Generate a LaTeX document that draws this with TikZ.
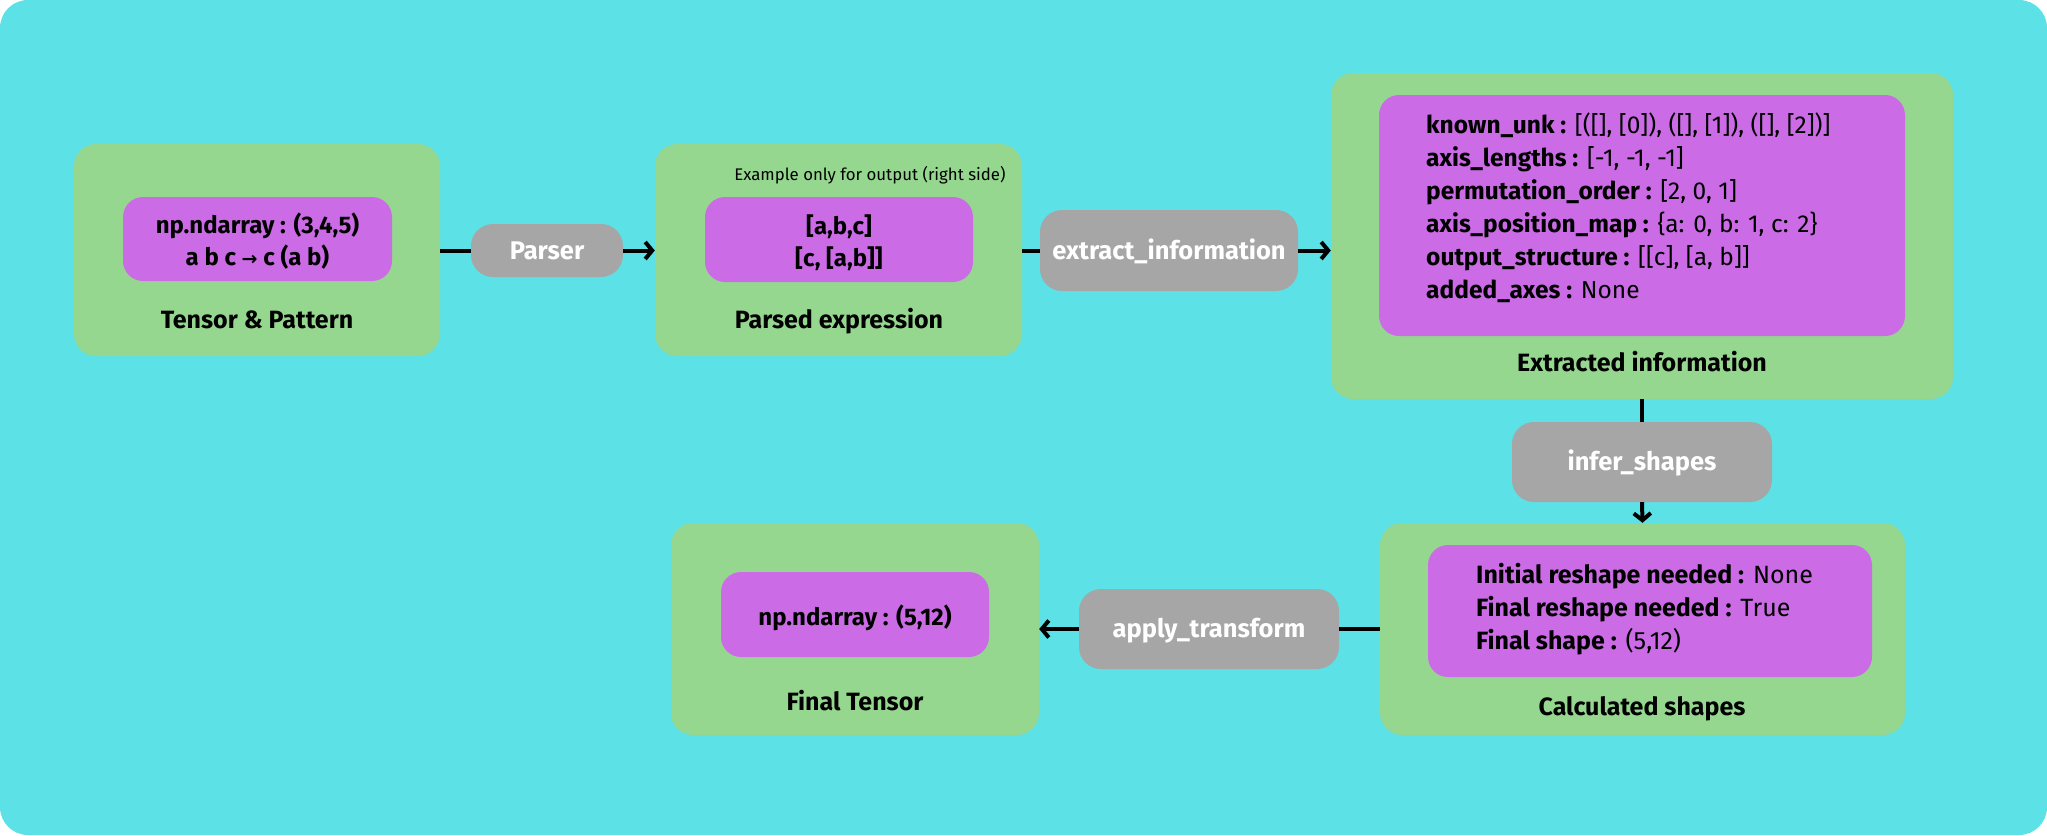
\documentclass[tikz,border=0pt]{standalone}
\usepackage{fontspec}
\setmainfont{Fira Sans}
\newfontfamily\symfont{DejaVu Sans}
\usetikzlibrary{arrows.meta}
\definecolor{bgc}{HTML}{5CE1E6}
\definecolor{grn}{HTML}{96D78F}
\definecolor{pur}{HTML}{CB6CE6}
\definecolor{gry}{HTML}{A6A6A6}
\tikzset{
  gbox/.style={fill=grn, draw=none, rounded corners=22pt, inner sep=0pt},
  pbox/.style={fill=pur, draw=none, rounded corners=20pt, inner sep=0pt},
  opbox/.style={fill=gry, draw=none, rounded corners=22pt, inner sep=0pt, text=white,
    font=\fontsize{25.5}{30}\selectfont\bfseries, text height=17.6pt, text depth=0pt},
  hdr/.style={inner sep=0pt, font=\fontsize{25}{30}\selectfont\bfseries, text height=17.2pt, text depth=0pt},
  ptxt/.style={inner sep=0pt, font=\fontsize{24}{29}\selectfont\bfseries, text height=16.6pt, text depth=0pt},
  ltxt/.style={inner sep=0pt, anchor=west, font=\fontsize{24.5}{29}\selectfont, text height=16.9pt, text depth=0pt},
  ltxtb/.style={ltxt, font=\fontsize{25}{29}\selectfont, text height=17.2pt},
  note/.style={inner sep=0pt, font=\fontsize{16.8}{20}\selectfont, text height=11.6pt, text depth=0pt},
  conn/.style={line width=4pt, black},
  arr/.style={conn, -{Straight Barb[length=7pt,width=17pt]}}
}
\begin{document}
\begin{tikzpicture}[x=1pt,y=-1pt]
\useasboundingbox (0,0) rectangle (2047,835);
\fill[white] (0,0) rectangle (2047,835);
\fill[bgc, rounded corners=28pt] (0,0) rectangle (2047,835);

% Tensor & Pattern
\node[gbox, minimum width=366pt, minimum height=212pt] (g1) at (257,250) {};
\node[pbox, minimum width=269pt, minimum height=84pt] (p1) at (257.5,239) {};
\node[ptxt] (p1a) at (257.5,225) {np.ndarray : (3,4,5)};
\node[ptxt] (p1b) at (257.5,257) {a b c {\symfont\fontsize{19}{22}\selectfont\bfseries →} c (a b)};
\node[hdr] (h1) at (257,320) {Tensor \& Pattern};

% Parser
\node[opbox, minimum width=152pt, minimum height=53pt] (parser) at (547,250.5) {Parser};

% Parsed expression
\node[gbox, minimum width=367pt, minimum height=212pt] (g2) at (838.5,250) {};
\node[note] (ex) at (870,175) {Example only for output (right side)};
\node[pbox, minimum width=268pt, minimum height=85pt] (p2) at (839,239.5) {};
\node[ptxt] (p2a) at (839,226) {[a,b,c]};
\node[ptxt] (p2b) at (839,258) {[c, [a,b]]};
\node[hdr] (h2) at (839,320) {Parsed expression};

% extract_information
\node[opbox, minimum width=258pt, minimum height=81pt] (extract) at (1169,250.5) {extract\_information};

% Extracted information
\node[gbox, minimum width=622pt, minimum height=326pt] (g3) at (1642,236) {};
\node[pbox, minimum width=526pt, minimum height=241pt] (p3) at (1642,215.5) {};
\node[ltxt] (l31) at (1426,125) {\textbf{known\_unk :} [([], [0]), ([], [1]), ([], [2])]};
\node[ltxt] (l32) at (1426,158) {\textbf{axis\_lengths :} [-1, -1, -1]};
\node[ltxt] (l33) at (1426,191) {\textbf{permutation\_order :} [2, 0, 1]};
\node[ltxt] (l34) at (1426,224) {\textbf{axis\_position\_map :} \{a: 0, b: 1, c: 2\}};
\node[ltxt] (l35) at (1426,257) {\textbf{output\_structure :} [[c], [a, b]]};
\node[ltxt] (l36) at (1426,290) {\textbf{added\_axes :} None};
\node[hdr] (h3) at (1642,363) {Extracted information};

% infer_shapes
\node[opbox, minimum width=260pt, minimum height=80pt] (infer) at (1642,462) {infer\_shapes};

% Calculated shapes
\node[gbox, minimum width=525pt, minimum height=212pt] (g4) at (1642.5,629) {};
\node[pbox, minimum width=444pt, minimum height=132pt] (p4) at (1650,611) {};
\node[ltxtb] (l41) at (1476,575) {\textbf{Initial reshape needed :} None};
\node[ltxtb] (l42) at (1476,608) {\textbf{Final reshape needed :} True};
\node[ltxtb] (l43) at (1476,641) {\textbf{Final shape :} (5,12)};
\node[hdr] (h4) at (1642,707) {Calculated shapes};

% apply_transform
\node[opbox, minimum width=260pt, minimum height=80pt] (apply) at (1209,629) {apply\_transform};

% Final Tensor
\node[gbox, minimum width=368pt, minimum height=212pt] (g5) at (855,629) {};
\node[pbox, minimum width=268pt, minimum height=85pt] (p5) at (855,614.5) {};
\node[ptxt] (p5a) at (855,617) {np.ndarray : (5,12)};
\node[hdr] (h5) at (855,702) {Final Tensor};

% connectors
\draw[conn] (g1.east |- parser.west) -- (parser.west);
\draw[arr] (parser.east) -- (parser.east -| g2.west);
\draw[conn] (g2.east |- extract.west) -- (extract.west);
\draw[arr] (extract.east) -- (extract.east -| g3.west);
\draw[conn] (g3.south) -- (infer.north);
\draw[arr] (infer.south) -- (g4.north);
\draw[conn] (g4.west) -- (apply.east);
\draw[arr] (apply.west) -- (g5.east);
\end{tikzpicture}
\end{document}
